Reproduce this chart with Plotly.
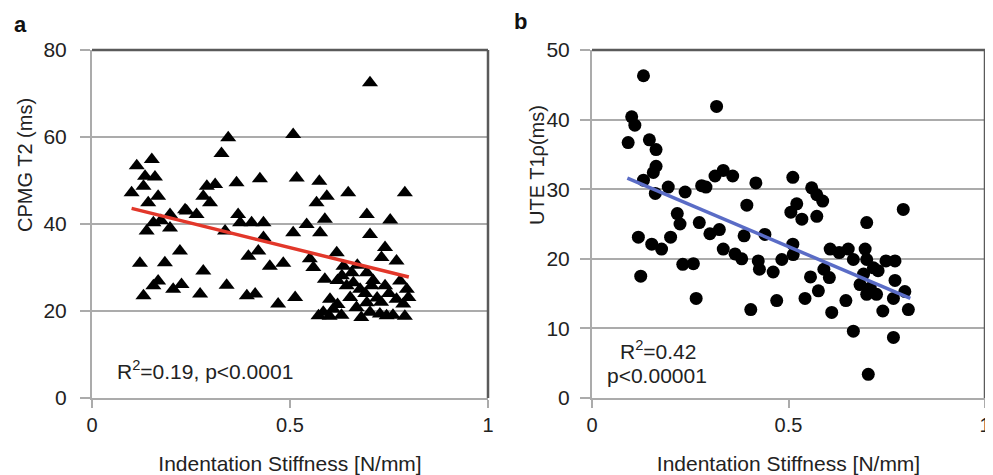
import plotly.graph_objects as go

# ---------------- Panel a: CPMG T2 vs indentation stiffness ----------------
a_x = [0.702, 0.344, 0.327, 0.508, 0.113, 0.151, 0.134, 0.159, 0.100, 0.130,
       0.167, 0.142, 0.155, 0.138, 0.197, 0.197, 0.235, 0.264, 0.290, 0.311,
       0.281, 0.298, 0.365, 0.424, 0.369, 0.374, 0.403, 0.433, 0.336, 0.517,
       0.508, 0.433, 0.420, 0.395, 0.449, 0.483, 0.222, 0.121, 0.184, 0.281,
       0.167, 0.155, 0.226, 0.205, 0.130, 0.273, 0.340, 0.391, 0.412, 0.470,
       0.513, 0.174, 0.239,
       0.574, 0.593, 0.567, 0.647, 0.790, 0.694, 0.753, 0.588, 0.542, 0.576,
       0.702, 0.740, 0.618, 0.731, 0.769, 0.559, 0.588, 0.631, 0.656, 0.694,
       0.643, 0.677, 0.706, 0.740, 0.778, 0.795, 0.799, 0.601, 0.584, 0.609,
       0.652, 0.668, 0.694, 0.702, 0.727, 0.744, 0.769, 0.786, 0.572, 0.635,
       0.620, 0.660, 0.690, 0.720, 0.750, 0.680, 0.630, 0.600, 0.760, 0.790,
       0.550, 0.620, 0.710, 0.730, 0.670]
a_y = [72.5, 59.8, 56.2, 60.6, 53.4, 54.8, 51.0, 50.8, 47.2, 48.7,
       46.4, 44.9, 40.3, 38.4, 39.1, 42.2, 43.3, 42.2, 48.7, 49.1,
       46.4, 44.9, 49.5, 50.4, 42.2, 40.3, 40.3, 40.3, 38.4, 50.6,
       38.0, 36.9, 33.8, 32.6, 30.3, 31.0, 33.8, 31.0, 31.1, 29.2,
       26.9, 25.8, 26.1, 25.0, 23.5, 23.9, 25.9, 23.5, 23.9, 21.6,
       23.1, 40.8, 43.0,
       49.8, 46.4, 44.9, 47.2, 47.2, 42.2, 40.9, 41.1, 39.9, 38.0,
       37.6, 34.6, 33.4, 32.3, 31.5, 30.0, 27.3, 28.1, 28.8, 28.8,
       25.8, 25.0, 25.8, 25.8, 26.9, 25.0, 23.1, 22.7, 19.7, 20.4,
       23.1, 20.8, 21.9, 19.7, 19.3, 18.9, 22.7, 21.6, 18.9, 30.3,
       27.0, 26.5, 24.0, 23.0, 24.0, 18.5, 19.0, 18.8, 19.0, 18.8,
       32.0, 21.5, 27.0, 22.0, 30.5]
trend_a_x = [0.10, 0.80]
trend_a_y = [43.6, 27.8]

# ---------------- Panel b: UTE T1rho vs indentation stiffness ----------------
b_x = [0.131, 0.317, 0.101, 0.109, 0.092, 0.146, 0.163, 0.163, 0.156, 0.131,
       0.161, 0.194, 0.237, 0.217, 0.224, 0.200, 0.118, 0.152, 0.177, 0.124,
       0.231, 0.258, 0.265, 0.273, 0.279, 0.290, 0.313, 0.334, 0.358, 0.300,
       0.324, 0.334, 0.364, 0.381, 0.394, 0.387, 0.417, 0.423, 0.426, 0.404,
       0.440, 0.461, 0.470, 0.483, 0.511, 0.506, 0.521, 0.534, 0.511, 0.512,
       0.559, 0.572, 0.587, 0.572, 0.556, 0.542, 0.576, 0.590, 0.604, 0.610,
       0.606, 0.629, 0.646, 0.652, 0.665, 0.699, 0.695, 0.699, 0.691, 0.682,
       0.699, 0.724, 0.703, 0.740, 0.728, 0.748, 0.771, 0.771, 0.767, 0.767,
       0.792, 0.796, 0.805, 0.665, 0.716, 0.708]
b_y = [46.3, 41.9, 40.4, 39.2, 36.7, 37.1, 35.7, 33.3, 32.4, 31.3,
       29.4, 30.3, 29.6, 26.5, 25.0, 23.1, 23.1, 22.1, 21.4, 17.5,
       19.2, 19.3, 14.3, 25.2, 30.5, 30.3, 31.9, 32.7, 31.9, 23.6,
       24.2, 21.4, 20.7, 20.0, 27.7, 23.3, 30.9, 19.7, 18.5, 12.7,
       23.5, 18.1, 14.0, 19.9, 31.7, 26.7, 27.9, 25.7, 22.1, 20.6,
       30.2, 29.2, 28.3, 26.1, 17.4, 14.3, 15.4, 18.5, 17.3, 12.3,
       21.4, 20.9, 14.0, 21.4, 9.6, 25.2, 21.4, 19.9, 17.8, 16.3,
       14.9, 14.9, 3.4, 12.5, 18.3, 19.7, 19.7, 16.9, 14.3, 8.7,
       27.1, 15.3, 12.7, 19.9, 18.7, 15.8]
trend_b_x = [0.09, 0.81]
trend_b_y = [31.6, 14.3]

x_ticks = [0, 0.5, 1]
x_tick_labels = ["0", "0.5", "1"]
a_y_ticks = [0, 20, 40, 60, 80]
b_y_ticks = [0, 10, 20, 30, 40, 50]

FONT = "Liberation Sans, Arial, sans-serif"
TXT = "#222222"
GRID = "#ababab"
AXC = "#ababab"
DARK = "#5a5a5a"

# The page body has an 8px margin, so the figure is drawn 8px in from the
# window's top-left corner; size the figure so that it fills the window.
OFF = 8
FIG_W, FIG_H = 993 - OFF, 475 - OFF
# plot-area geometry in window pixels
WL, WT, WR, WB = 92, 50, 985, 398
L, T = WL - OFF, WT - OFF
W, H = WR - WL, WB - WT


def px_x(wx):
    return (wx - WL) / W


def px_y(wy):
    return 1 - (wy - WT) / H


fig = go.Figure()
fig.add_trace(go.Scatter(x=a_x, y=a_y, mode="markers", xaxis="x", yaxis="y",
                         marker=dict(symbol="triangle-up", size=14, color="black"),
                         showlegend=False, hoverinfo="skip"))
fig.add_trace(go.Scatter(x=trend_a_x, y=trend_a_y, mode="lines", xaxis="x", yaxis="y",
                         line=dict(color="#e2372a", width=3.5), showlegend=False))
fig.add_trace(go.Scatter(x=b_x, y=b_y, mode="markers", xaxis="x2", yaxis="y2",
                         marker=dict(symbol="circle", size=13, color="black"),
                         showlegend=False, hoverinfo="skip"))
fig.add_trace(go.Scatter(x=trend_b_x, y=trend_b_y, mode="lines", xaxis="x2", yaxis="y2",
                         line=dict(color="#5a6cc6", width=3.5), showlegend=False))

xcommon = dict(range=[0, 1], tickvals=x_ticks, ticktext=x_tick_labels,
               showgrid=False, zeroline=False, showline=True, linecolor=AXC,
               linewidth=2, ticks="outside", ticklen=8, tickcolor=AXC, tickwidth=2,
               tickfont=dict(size=20, color=TXT), fixedrange=True, automargin=False,
               ticklabeloverflow="allow",
               title=dict(text="Indentation Stiffness [N/mm]",
                          font=dict(size=21, color=TXT), standoff=22))
ycommon = dict(showgrid=True, gridcolor=GRID, gridwidth=2, zeroline=False,
               showline=True, linecolor=AXC, linewidth=2, ticks="outside",
               ticklen=10, tickcolor=AXC, tickwidth=2, automargin=False,
               ticklabelstandoff=9, ticklabeloverflow="allow",
               tickfont=dict(size=21, color=TXT), fixedrange=True)

gap_a = (488 - WL) / W
gap_b = (592 - WL) / W

fig.update_layout(
    width=FIG_W, height=FIG_H,
    margin=dict(l=L, r=FIG_W - L - W, t=T, b=FIG_H - T - H, autoexpand=False),
    paper_bgcolor="white", plot_bgcolor="white",
    font=dict(family=FONT, color=TXT),
    xaxis=dict(domain=[0, gap_a], anchor="y", **xcommon),
    xaxis2=dict(domain=[gap_b, 1], anchor="y2", **xcommon),
    yaxis=dict(domain=[0, 1], anchor="x", range=[0, 80], tickvals=a_y_ticks, **ycommon),
    yaxis2=dict(domain=[0, 1], anchor="x2", range=[0, 50], tickvals=b_y_ticks,
                **dict(ycommon, ticklabelstandoff=6)),
)

# darker top/right frame edges
for xr, yr in (("x domain", "y domain"), ("x2 domain", "y2 domain")):
    fig.add_shape(type="line", xref=xr, yref=yr, x0=0, x1=1, y0=1, y1=1,
                  line=dict(color=DARK, width=2.5))
    fig.add_shape(type="line", xref=xr, yref=yr, x0=1, x1=1, y0=0, y1=1,
                  line=dict(color=DARK, width=2.5))

CM = dict(xref="paper", yref="paper", showarrow=False, xanchor="center", yanchor="middle")

# y-axis titles
fig.add_annotation(x=px_x(25), y=px_y(165), text="CPMG T2 (ms)", textangle=-90,
                   font=dict(size=20, color=TXT), **CM)
fig.add_annotation(x=px_x(537), y=px_y(165), text="UTE T1ρ(ms)", textangle=-90,
                   font=dict(size=20, color=TXT), **CM)

# statistics
fig.add_annotation(x=px_x(205), y=px_y(370), text="R<sup>2</sup>=0.19, p<0.0001",
                   font=dict(size=21, color=TXT), **CM)
fig.add_annotation(x=px_x(658), y=px_y(350), text="R<sup>2</sup>=0.42",
                   font=dict(size=21, color=TXT), **CM)
fig.add_annotation(x=px_x(657), y=px_y(375), text="p<0.00001",
                   font=dict(size=21, color=TXT), **CM)

# panel letters
fig.add_annotation(x=px_x(20), y=px_y(24), text="<b>a</b>",
                   font=dict(size=22, color="#111"), **CM)
fig.add_annotation(x=px_x(520), y=px_y(22), text="<b>b</b>",
                   font=dict(size=22, color="#111"), **CM)

fig.write_html("out.html")
